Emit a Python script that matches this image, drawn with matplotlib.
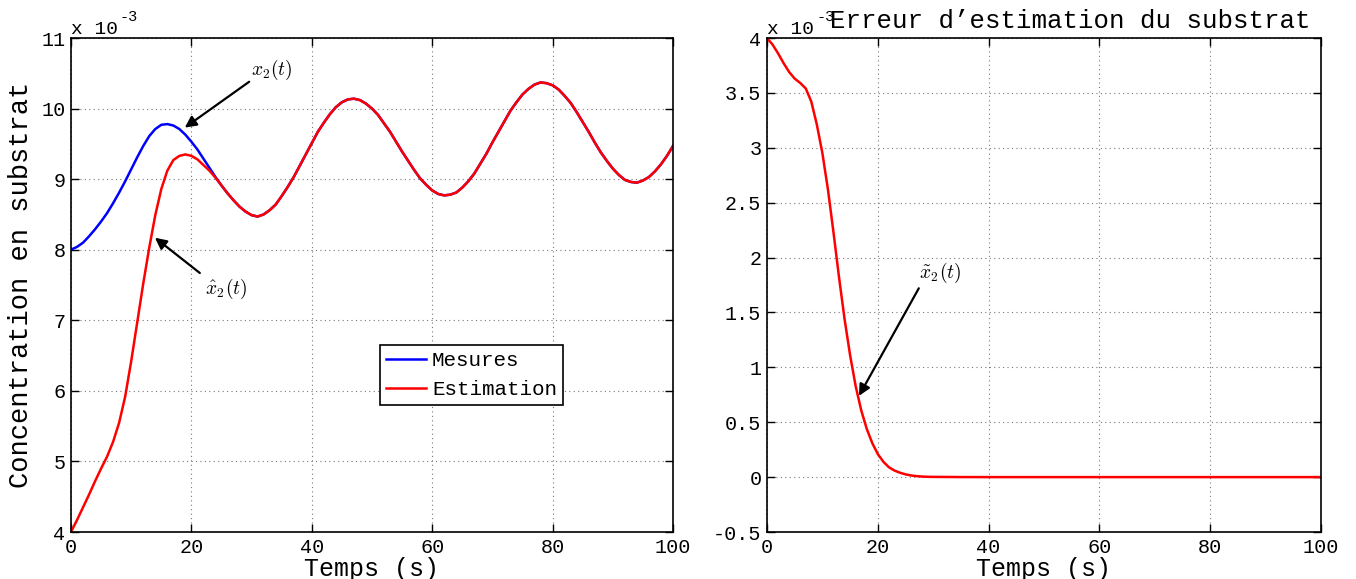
"""
Observateur du substrat : mesures / estimation et erreur d'estimation.
"""

import matplotlib

matplotlib.use("Agg")
import matplotlib.pyplot as plt
from matplotlib.ticker import FuncFormatter, MultipleLocator

plt.rcParams["font.family"] = ["Liberation Mono", "DejaVu Sans Mono"]
plt.rcParams["mathtext.fontset"] = "cm"

# --- donnees (valeurs en 1e-3), pas de 1 s ---
t_mes = list(range(0, 101))

x2_mes_start = [8.00, 8.04, 8.10, 8.19, 8.29, 8.40, 8.52, 8.66, 8.81, 8.97,
                9.14, 9.31, 9.47, 9.61, 9.71, 9.77, 9.78, 9.76, 9.71, 9.63,
                9.53, 9.42, 9.29, 9.16, 9.03, 8.91, 8.80, 8.70, 8.61, 8.54,
                8.49]
x2_est_start = [4.00, 4.17, 4.35, 4.53, 4.72, 4.90, 5.07, 5.28, 5.55, 5.92,
                6.42, 6.97, 7.52, 8.03, 8.49, 8.86, 9.12, 9.27, 9.33, 9.35,
                9.33, 9.28, 9.20, 9.12, 9.02, 8.91, 8.80, 8.70, 8.61, 8.54,
                8.49]
# t = 31 .. 100 : les deux courbes sont confondues
x2_rest = [8.47, 8.50, 8.56, 8.64, 8.76, 8.89, 9.03, 9.19, 9.35, 9.51,
           9.67, 9.80, 9.92, 10.02, 10.09, 10.13, 10.14, 10.12, 10.07, 10.00,
           9.91, 9.79, 9.67, 9.53, 9.39, 9.26, 9.13, 9.01, 8.92, 8.84,
           8.79, 8.77, 8.78, 8.81, 8.88, 8.97, 9.08, 9.22, 9.36, 9.52,
           9.67, 9.82, 9.97, 10.09, 10.20, 10.28, 10.34, 10.37, 10.36, 10.33,
           10.27, 10.18, 10.08, 9.95, 9.81, 9.67, 9.52, 9.38, 9.26, 9.15,
           9.06, 8.99, 8.96, 8.95, 8.98, 9.03, 9.11, 9.21, 9.33, 9.47]

x2_mes = x2_mes_start + x2_rest
x2_est = x2_est_start + x2_rest

t_err = list(range(0, 31)) + [35, 40, 50, 60, 70, 80, 90, 100]
x2_err = [4.00, 3.94, 3.86, 3.77, 3.69, 3.63, 3.59, 3.54, 3.42, 3.21,
          2.95, 2.62, 2.23, 1.82, 1.44, 1.11, 0.83, 0.61, 0.44, 0.31,
          0.21, 0.14, 0.09, 0.06, 0.04, 0.025, 0.015, 0.009, 0.005, 0.003,
          0.002, 0.0005, 0.0, 0.0, 0.0, 0.0, 0.0, 0.0, 0.0]

W, H = 1356, 579
fig = plt.figure(figsize=(W / 100, H / 100), dpi=100)
ax1 = fig.add_axes([71 / W, 47 / H, 602 / W, 494 / H])
ax2 = fig.add_axes([767 / W, 47 / H, 554 / W, 494 / H])


def matlab_style(ax):
    ax.tick_params(direction="in", top=True, right=True, length=6, width=1,
                   labelsize=14.5, pad=4)
    ax.grid(True, linestyle=(0, (1, 3)), color="#777777", linewidth=0.8)
    for sp in ax.spines.values():
        sp.set_linewidth(1.2)
    ax.xaxis.set_major_locator(MultipleLocator(20))
    ax.yaxis.set_major_formatter(FuncFormatter(lambda v, p: f"{v:g}"))


arrow = dict(arrowstyle="-|>", color="black", lw=1.6, mutation_scale=17,
             shrinkA=0, shrinkB=0)

# --- gauche ---
ax1.plot(t_mes, x2_mes, color="blue", lw=1.8, label="Mesures")
ax1.plot(t_mes, x2_est, color="red", lw=1.8, label="Estimation")
ax1.set_xlim(0, 100)
ax1.set_ylim(4, 11)
ax1.yaxis.set_major_locator(MultipleLocator(1))
matlab_style(ax1)
ax1.set_xlabel("Temps (s)", fontsize=18, labelpad=0)
ax1.set_ylabel("Concentration en substrat", fontsize=19.5)
ax1.yaxis.set_label_coords(-0.062, 0.5)

ax1.annotate("", xy=(18.9, 9.73), xytext=(29.6, 10.38), arrowprops=arrow)
ax1.text(29.9, 10.38, r"$x_2(t)$", fontsize=14, ha="left", va="bottom")
ax1.annotate("", xy=(13.95, 8.17), xytext=(21.4, 7.67), arrowprops=arrow)
ax1.text(22.3, 7.62, r"$\hat{x}_2(t)$", fontsize=14, ha="left", va="top")

leg = ax1.legend(loc="lower left", bbox_to_anchor=(0.513, 0.257),
                 borderaxespad=0, fontsize=15, fancybox=False,
                 edgecolor="black", framealpha=1, handlelength=1.9,
                 handletextpad=0.3, labelspacing=0.45, borderpad=0.3)
leg.get_frame().set_linewidth(1.2)

# --- droite ---
ax2.plot(t_err, x2_err, color="red", lw=1.8)
ax2.set_xlim(0, 100)
ax2.set_ylim(-0.5, 4)
ax2.yaxis.set_major_locator(MultipleLocator(0.5))
matlab_style(ax2)
ax2.set_xlabel("Temps (s)", fontsize=18, labelpad=0)
ax2.annotate("", xy=(16.6, 0.74), xytext=(27.4, 1.72), arrowprops=arrow)
ax2.text(27.5, 1.75, r"$\tilde{x}_2(t)$", fontsize=14, ha="left", va="bottom")

# facteurs d'echelle facon MATLAB
for x0 in (71, 767):
    fig.text(x0 / W, 1 - 34 / H, "x 10", fontsize=14, va="baseline")
    fig.text((x0 + 49) / W, 1 - 21 / H, "-3", fontsize=11, va="baseline")

fig.text(1070 / W, 1 - 28 / H, "Erreur d\u2019estimation du substrat",
         fontsize=18.5, ha="center", va="baseline")

fig.savefig("out.png", dpi=100)
